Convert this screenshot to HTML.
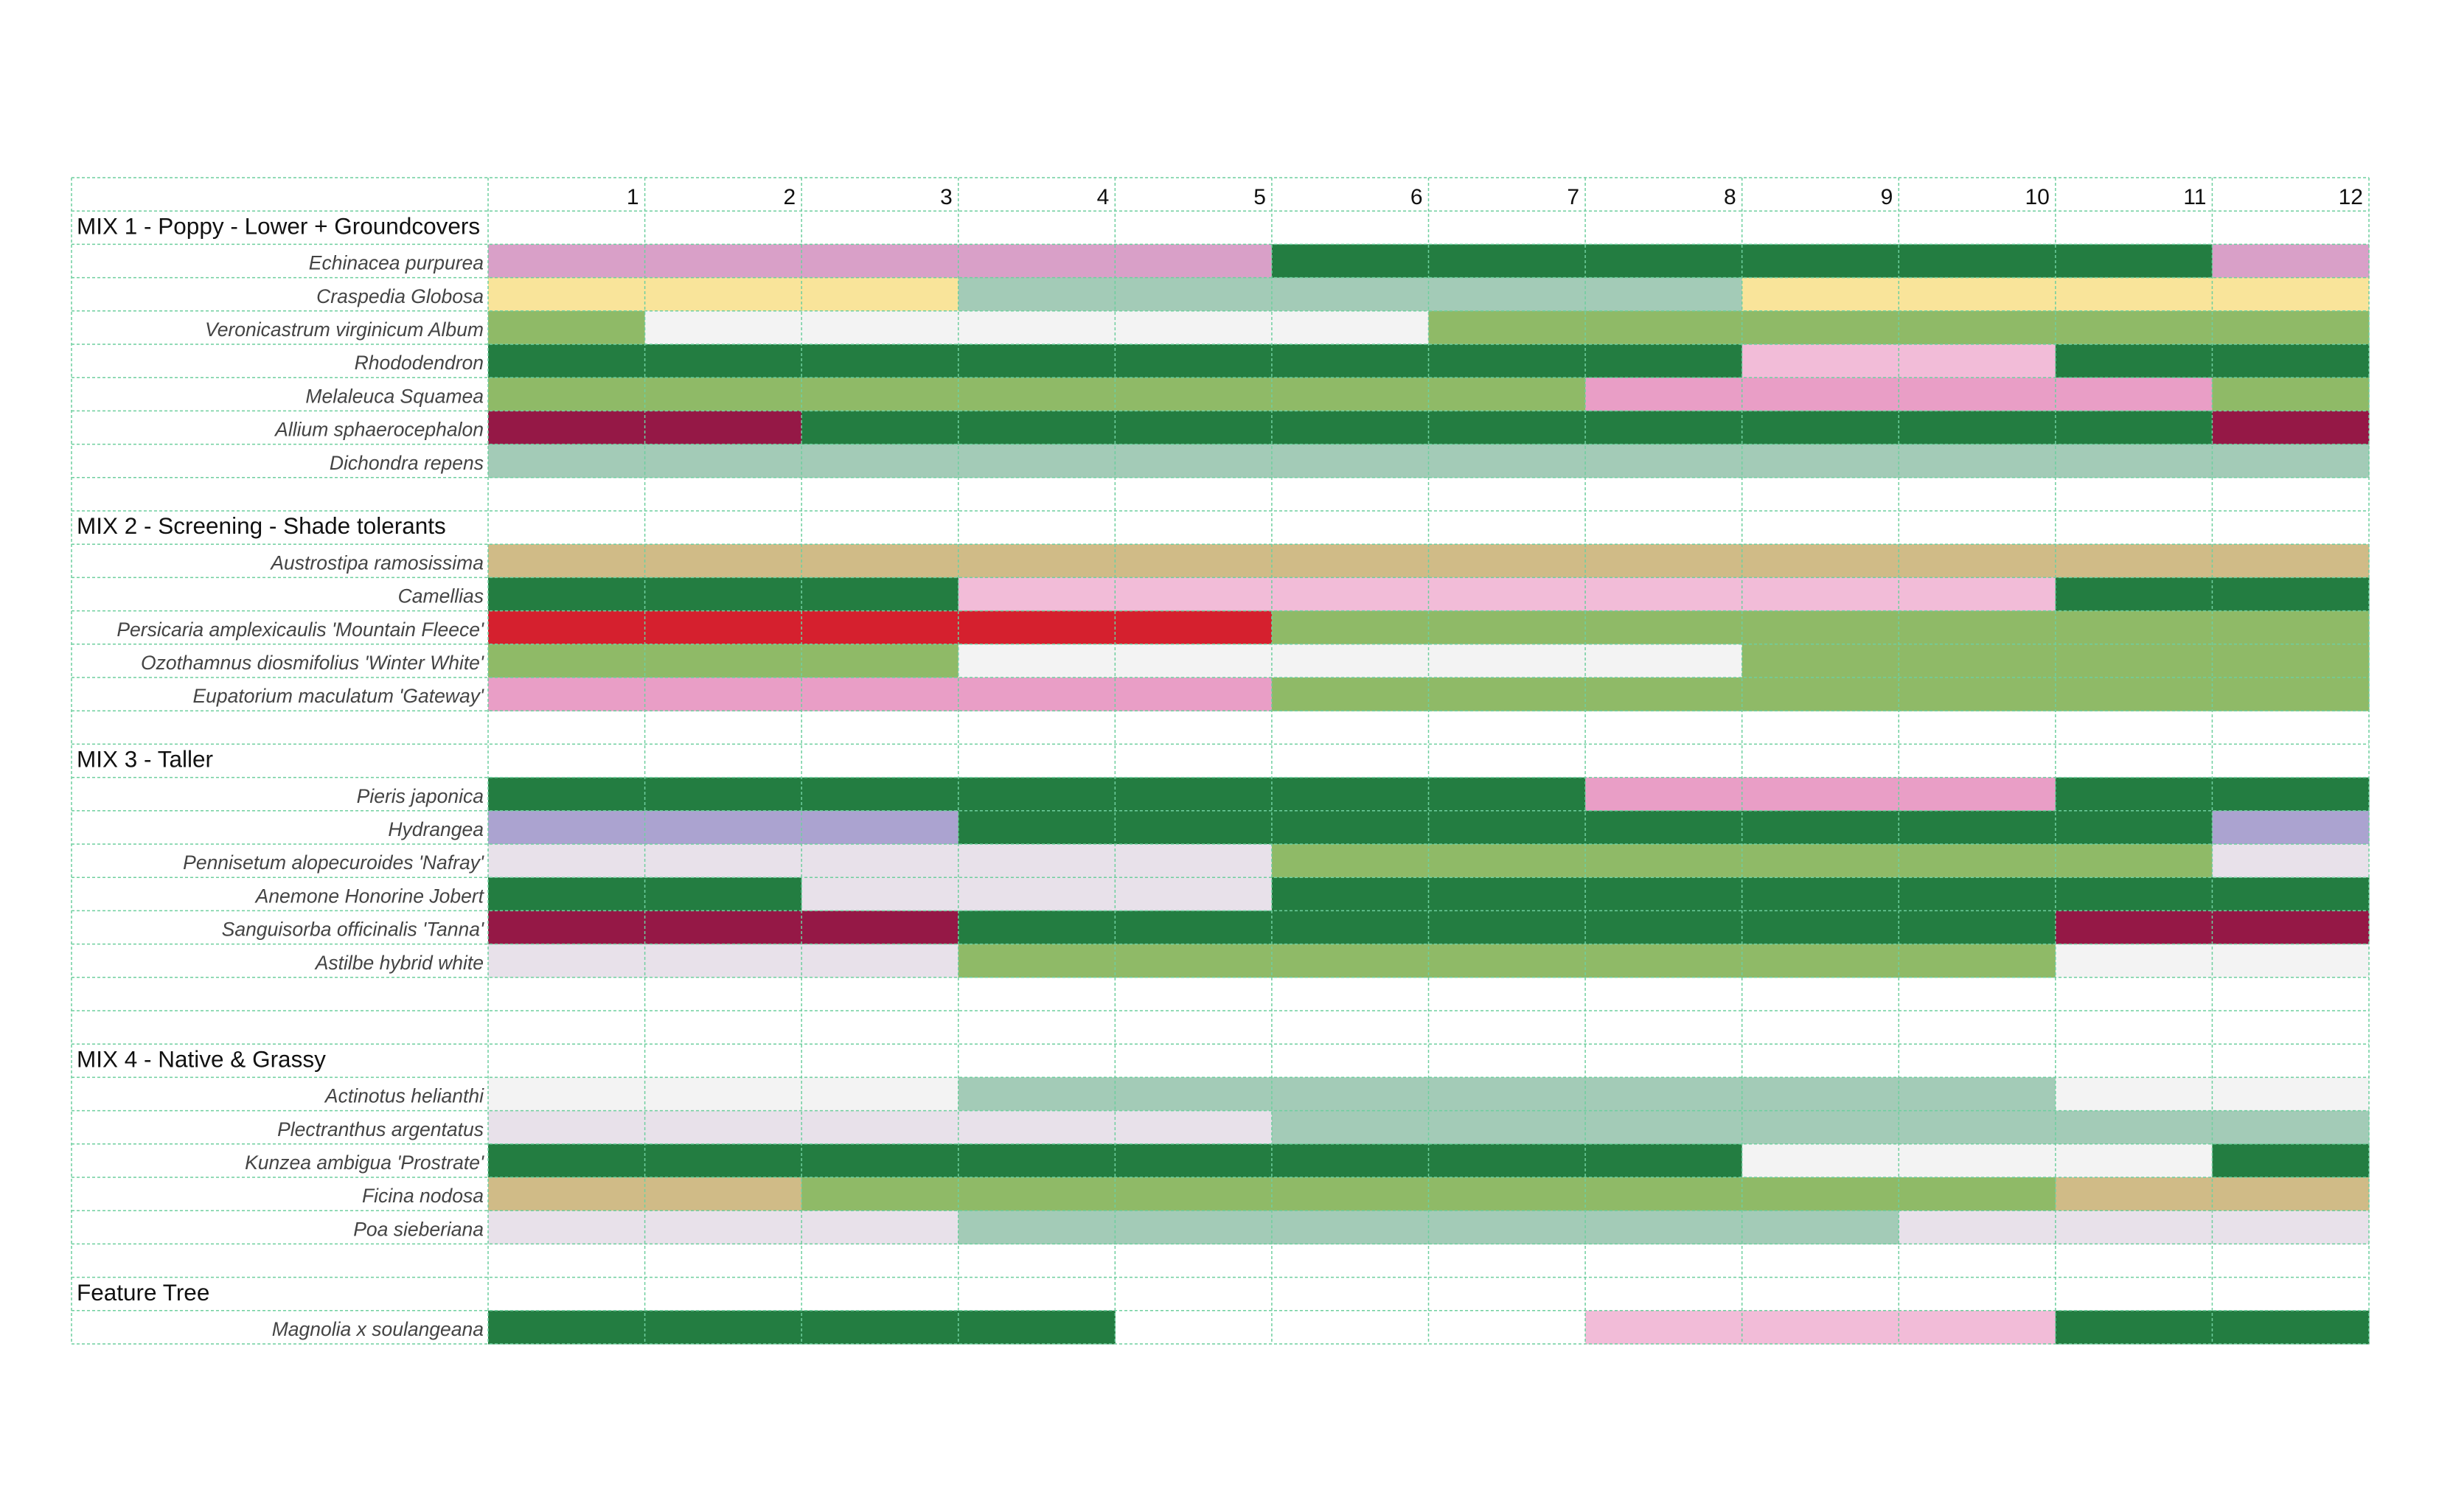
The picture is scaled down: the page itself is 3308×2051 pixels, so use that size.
<!DOCTYPE html>
<html><head><meta charset="utf-8"><style>
html,body{margin:0;padding:0;background:#fff;}
svg{display:block;}
text{font-family:"Liberation Sans",sans-serif;}
</style></head><body>
<svg id="s" width="3308" height="2051" xmlns="http://www.w3.org/2000/svg"></svg>
<script>
const L=97,C0=662,R=3213,T=241,H=45.2,CW=(R-C0)/12;
const col={P:"#d9a0c8",D:"#237d41",Y:"#f9e49a",S:"#a3cbb7",G:"#8fba67",W:"#f3f3f3",K:"#f2bcd8",Q:"#e99ec6",M:"#951846",T:"#d0bb87",E:"#d5202e",V:"#e8e1ea",U:"#aba3d0",_:null};
const rows=[
["h",""],["t","MIX 1 - Poppy - Lower + Groundcovers"],
["p","Echinacea purpurea","PPPPPDDDDDDP"],
["p","Craspedia Globosa","YYYSSSSSYYYY"],
["p","Veronicastrum virginicum Album","GWWWWWGGGGGG"],
["p","Rhododendron","DDDDDDDDKKDD"],
["p","Melaleuca Squamea","GGGGGGGQQQQG"],
["p","Allium  sphaerocephalon","MMDDDDDDDDDM"],
["p","Dichondra repens","SSSSSSSSSSSS"],
["b"],["t","MIX 2 - Screening - Shade tolerants"],
["p","Austrostipa ramosissima","TTTTTTTTTTTT"],
["p","Camellias","DDDKKKKKKKDD"],
["p","Persicaria amplexicaulis 'Mountain Fleece'","EEEEEGGGGGGG"],
["p","Ozothamnus diosmifolius 'Winter White'","GGGWWWWWGGGG"],
["p","Eupatorium maculatum 'Gateway'","QQQQQGGGGGGG"],
["b"],["t","MIX 3 - Taller"],
["p","Pieris japonica","DDDDDDDQQQDD"],
["p","Hydrangea","UUUDDDDDDDDU"],
["p","Pennisetum alopecuroides 'Nafray'","VVVVVGGGGGGV"],
["p","Anemone Honorine Jobert","DDVVVDDDDDDD"],
["p","Sanguisorba officinalis 'Tanna'","MMMDDDDDDDMM"],
["p","Astilbe hybrid white","VVVGGGGGGGWW"],
["b"],["b"],["t","MIX 4 - Native & Grassy"],
["p","Actinotus helianthi","WWWSSSSSSSWW"],
["p","Plectranthus argentatus","VVVVVSSSSSSS"],
["p","Kunzea ambigua 'Prostrate'","DDDDDDDDWWWD"],
["p","Ficina nodosa","TTGGGGGGGGTT"],
["p","Poa sieberiana","VVVSSSSSSVVV"],
["b"],["t","Feature Tree"],
["p","Magnolia x soulangeana","DDDD___KKKDD"]];
let o="";
rows.forEach((r,i)=>{const y=T+i*H;
 if(r[0]=="p"){for(let m=0;m<12;m++){const c=col[r[2][m]];if(c)o+=`<rect x="${C0+m*CW}" y="${y}" width="${CW+0.5}" height="${H+0.5}" fill="${c}"/>`;}
  o+=`<text x="656" y="${y+H-11}" text-anchor="end" font-size="26.5" font-style="italic" fill="#444">${r[1].replace(/&/g,"&amp;")}</text>`;}
 if(r[0]=="t")o+=`<text x="104" y="${y+H-14}" font-size="31.5" fill="#111">${r[1].replace(/&/g,"&amp;")}</text>`;
 if(r[0]=="h")for(let m=1;m<=12;m++)o+=`<text x="${C0+m*CW-8}" y="${y+H-9}" text-anchor="end" font-size="30" fill="#111">${m}</text>`;
});
const st='stroke="#6fcf9f" stroke-width="1.5" stroke-dasharray="4,3"';
for(let i=0;i<=rows.length;i++){const y=T+i*H;o+=`<line x1="${L}" x2="${R}" y1="${y}" y2="${y}" ${st}/>`;}
const B=T+rows.length*H;
[L,C0].forEach(x=>o+=`<line x1="${x}" x2="${x}" y1="${T}" y2="${B}" ${st}/>`);
for(let m=1;m<=12;m++){const x=C0+m*CW;o+=`<line x1="${x}" x2="${x}" y1="${T}" y2="${B}" ${st}/>`;}
document.getElementById("s").innerHTML=o;
</script>
</body></html>
